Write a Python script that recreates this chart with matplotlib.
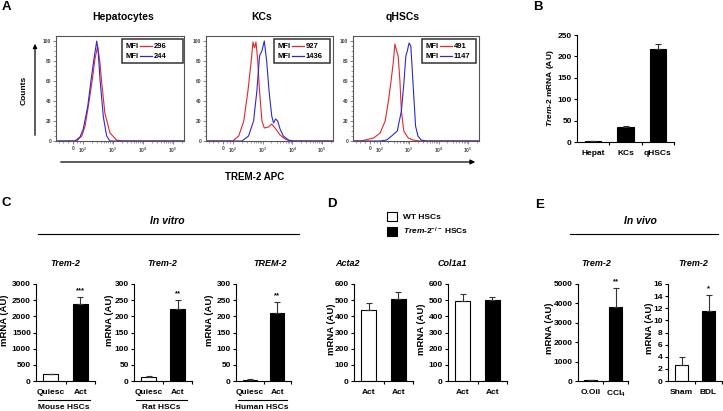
import numpy as np
import matplotlib.pyplot as plt
from matplotlib.lines import Line2D
from matplotlib.patches import Rectangle, FancyArrowPatch

plt.rcParams['font.family'] = ['Liberation Sans', 'DejaVu Sans']
plt.rcParams['font.weight'] = 'bold'
plt.rcParams['mathtext.fontset'] = 'custom'
plt.rcParams['mathtext.rm'] = 'Liberation Sans:bold'
plt.rcParams['mathtext.it'] = 'Liberation Sans:italic:bold'
plt.rcParams['mathtext.bf'] = 'Liberation Sans:bold'

# ---- data ----
# panel A: flow histograms, x in log10 units of TREM-2 APC, y = % of max
hep_red_x = [1.1, 1.79, 1.96, 2.07, 2.18, 2.31, 2.40, 2.49, 2.56, 2.62, 2.73, 2.90, 3.12, 3.29, 5.37]
hep_red_y = [0, 0, 5, 15, 35, 61, 82, 95, 80, 60, 28, 8, 1, 0, 0]
hep_blue_x = [1.1, 1.73, 1.90, 2.01, 2.16, 2.27, 2.38, 2.46, 2.51, 2.57, 2.68, 2.79, 2.90, 5.37]
hep_blue_y = [0, 0, 4, 12, 35, 61, 85, 100, 88, 61, 24, 5, 0, 0]

kc_red_x = [1.1, 2.0, 2.2, 2.37, 2.51, 2.62, 2.68, 2.73, 2.78, 2.84, 2.90, 2.98, 3.06, 3.20, 3.31, 3.42, 3.59, 3.76, 3.92, 5.37]
kc_red_y = [0, 0, 5, 20, 50, 80, 99, 93, 99, 80, 50, 20, 13, 14, 17, 13, 6, 2, 0, 0]
kc_blue_x = [1.1, 2.31, 2.53, 2.70, 2.81, 2.90, 2.98, 3.06, 3.14, 3.22, 3.31, 3.37, 3.44, 3.51, 3.59, 3.70, 3.87, 4.03, 5.37]
kc_blue_y = [0, 0, 5, 20, 50, 85, 90, 100, 80, 50, 25, 18, 22, 20, 12, 5, 1, 0, 0]

hsc_red_x = [1.1, 1.36, 1.80, 2.02, 2.19, 2.30, 2.39, 2.47, 2.52, 2.58, 2.63, 2.69, 2.74, 2.82, 2.97, 3.13, 3.36, 5.37]
hsc_red_y = [0, 0, 3, 8, 20, 40, 60, 80, 97, 90, 85, 60, 30, 10, 3, 1, 0, 0]
hsc_blue_x = [1.1, 2.02, 2.24, 2.41, 2.60, 2.74, 2.83, 2.89, 2.94, 3.00, 3.06, 3.11, 3.17, 3.22, 3.30, 3.41, 3.58, 5.37]
hsc_blue_y = [0, 0, 1, 5, 10, 30, 60, 85, 90, 98, 95, 70, 40, 15, 5, 1, 0, 0]

hist_titles = ['Hepatocytes', 'KCs', 'qHSCs']
mfi_red = [296, 927, 491]
mfi_blue = [244, 1436, 1147]

# panel B
b_cats = ['Hepat', 'KCs', 'qHSCs']
b_vals = [2, 34, 218]
b_err = [0.5, 4, 11]

# panel C
c_cats = ['Quiesc', 'Act']
c_mouse_vals = [210, 2380]
c_mouse_err = [0, 220]
c_rat_vals = [11, 222]
c_rat_err = [4, 30]
c_human_vals = [4, 211]
c_human_err = [3, 32]
c_stars = [['', '***'], ['', '**'], ['', '**']]

# panel D
d_cats = ['Act', 'Act']
d_acta2_vals = [438, 510]
d_acta2_err = [44, 40]
d_col1a1_vals = [492, 503]
d_col1a1_err = [45, 15]

# panel E
e_ccl4_cats = ['O.Oil', 'CCl$_4$']
e_ccl4_vals = [30, 3790]
e_ccl4_err = [0, 1000]
e_bdl_cats = ['Sham', 'BDL']
e_bdl_vals = [2.6, 11.5]
e_bdl_err = [1.3, 2.7]
e_stars = [['', '**'], ['', '*']]

RED = '#e3262b'
BLUE = '#2a2ad0'
W, H = 723, 411


def rect(l, t, r, b):
    return [l / W, 1 - b / H, (r - l) / W, (b - t) / H]


def fp(x, y):
    return (x / W, 1 - y / H)


fig = plt.figure(figsize=(W / 100, H / 100), dpi=100)


def ftext(x, y, s, **kw):
    kw.setdefault('ha', 'center')
    kw.setdefault('va', 'center')
    fig.text(*fp(x, y), s, **kw)


def hist_panel(box, rx, ry, bx, by, mr, mb, leg_l, leg_r):
    l, t, r, b = box
    ax = fig.add_axes(rect(l, t, r, b))
    ax.plot(rx, ry, color=RED, lw=0.8)
    ax.plot(bx, by, color=BLUE, lw=0.8)
    ax.set_xlim(1.1, 5.37)
    ax.set_ylim(0, 105)
    for s in ax.spines.values():
        s.set_color('#555555')
        s.set_linewidth(0.8)
    ax.set_yticks(np.arange(0, 101, 20))
    ax.set_yticks(np.arange(0, 101, 5), minor=True)
    ax.set_xticks([1.67, 2, 3, 4, 5])
    ax.set_xticklabels(['0', '$10^2$', '$10^3$', '$10^4$', '$10^5$'])
    minor = [1.2, 1.35, 1.5, 1.8, 1.9]
    for d in [2, 3, 4, 5]:
        minor += list(d + np.log10(np.arange(2, 10)))
    ax.set_xticks([m for m in minor if m < 5.37], minor=True)
    ax.tick_params(labelsize=3.5, labelcolor='#444444', color='#555555',
                   length=2, width=0.5, pad=1.5)
    ax.tick_params(which='minor', length=1.2, width=0.4, color='#555555')
    # MFI box
    w = r - l
    h = b - t
    x0 = (leg_l - l) / w
    x1 = (leg_r - l) / w
    y_top = 1 - (39 - t) / h
    y_bot = 1 - (63 - t) / h
    ax.add_patch(Rectangle((x0, y_bot), x1 - x0, y_top - y_bot, transform=ax.transAxes,
                           fill=False, edgecolor='#333333', lw=1.1, clip_on=False))
    for yy, col, val in [(46, RED, mr), (56, BLUE, mb)]:
        ya = 1 - (yy - t) / h
        ax.text(x0 + 3 / w, ya, 'MFI', transform=ax.transAxes, fontsize=5.5,
                ha='left', va='center')
        ax.plot([x0 + 18 / w, x0 + 30 / w], [ya, ya], color=col, lw=0.9,
                transform=ax.transAxes)
        ax.text(x0 + 32 / w, ya, str(val), transform=ax.transAxes, fontsize=5.5,
                ha='left', va='center')
    return ax


hist_boxes = [(56, 36, 184, 141), (206, 36, 333, 141), (353, 36, 479, 141)]
leg_lr = [(122, 183), (274, 330), (422, 476)]
curves = [(hep_red_x, hep_red_y, hep_blue_x, hep_blue_y),
          (kc_red_x, kc_red_y, kc_blue_x, kc_blue_y),
          (hsc_red_x, hsc_red_y, hsc_blue_x, hsc_blue_y)]
title_x = [123, 262, 403]
for i in range(3):
    hist_panel(hist_boxes[i], *curves[i], mfi_red[i], mfi_blue[i], *leg_lr[i])
    ftext(title_x[i], 17, hist_titles[i], fontsize=7.5)

ftext(24, 90, 'Counts', fontsize=6, rotation=90)
fig.add_artist(FancyArrowPatch(fp(35, 138), fp(35, 41), transform=fig.transFigure,
                               arrowstyle='-|>', mutation_scale=6, lw=0.9, color='black'))
fig.add_artist(FancyArrowPatch(fp(58, 162), fp(478, 162), transform=fig.transFigure,
                               arrowstyle='-|>', mutation_scale=7, lw=0.9, color='black'))
ftext(255, 177, 'TREM-2 APC', fontsize=7)


def bar_panel(box, cats, vals, errs, ymax, ystep, colors, stars=None, pad=5.5):
    ax = fig.add_axes(rect(*box))
    x = np.arange(len(vals))
    bars = ax.bar(x, vals, width=0.5, color=colors, edgecolor='black', linewidth=0.8, zorder=2)
    ax.errorbar(x, vals, yerr=[np.zeros(len(errs)), errs], fmt='none', ecolor='#333333',
                elinewidth=0.8, capsize=2, capthick=0.8, zorder=3)
    ax.set_xlim(-0.5, len(vals) - 0.5)
    ax.set_ylim(0, ymax)
    ax.set_yticks(np.arange(0, ymax + 1e-9, ystep))
    ax.set_xticks(x)
    ax.set_xticklabels(cats)
    ax.set_xticks(np.arange(len(vals)) + 0.5, minor=True)
    for s in ['top', 'right']:
        ax.spines[s].set_visible(False)
    for s in ['left', 'bottom']:
        ax.spines[s].set_linewidth(0.8)
    ax.tick_params(axis='x', which='major', length=0, pad=pad, labelsize=6)
    ax.tick_params(axis='x', which='minor', length=2.5, width=0.8, direction='out')
    ax.tick_params(axis='y', length=2.5, width=0.8, labelsize=6, pad=1.2)
    if stars:
        for xi, v, e, s in zip(x, vals, errs, stars):
            if s:
                ax.annotate(s, (xi, v + e), xytext=(0, 2), textcoords='offset points',
                            ha='center', va='bottom', fontsize=5.5)
    return ax, bars


# panel B
axb, _ = bar_panel((577, 35, 674, 142), b_cats, b_vals, b_err, 250, 50, 'black', pad=6)
ftext(550, 88, '$\\mathit{Trem}$-$\\mathit{2}$ mRNA (AU)', fontsize=6, rotation=90)

WB = ['white', 'black']
# panel C
c_boxes = [(36, 284, 95, 381), (134, 284, 192, 381), (236, 284, 291, 381)]
c_data = [(c_mouse_vals, c_mouse_err, 3000, 500), (c_rat_vals, c_rat_err, 300, 50),
          (c_human_vals, c_human_err, 300, 50)]
c_groups = ['Mouse HSCs', 'Rat HSCs', 'Human HSCs']
c_titles = [(65, 'Trem-2'), (162, 'Trem-2'), (270, 'TREM-2')]
c_ylab_x = [5, 110, 209]
for i in range(3):
    vals, errs, ymax, ystep = c_data[i]
    ax, _ = bar_panel(c_boxes[i], c_cats, vals, errs, ymax, ystep, WB, c_stars[i])
    ax.plot([0.03, 0.92], [-0.2, -0.2], color='black', lw=0.8, transform=ax.transAxes,
            clip_on=False)
    ax.text(0.47, -0.27, c_groups[i], transform=ax.transAxes, ha='center', va='center',
            fontsize=6)
    ftext(c_titles[i][0], 263, c_titles[i][1], fontsize=6.5, style='italic')
    ftext(c_ylab_x[i], 320, 'mRNA (AU)', fontsize=6.8, rotation=90)

ftext(167, 221, 'In vitro', fontsize=7.5, style='italic')
fig.add_artist(Line2D([38 / W, 299 / W], [1 - 234 / H] * 2, color='black', lw=0.8))

# panel D
ax_d1, d_bars = bar_panel((354, 284, 413, 381), d_cats, d_acta2_vals, d_acta2_err, 600, 100, WB)
bar_panel((448, 284, 507, 381), d_cats, d_col1a1_vals, d_col1a1_err, 600, 100, WB)
ftext(347, 263, 'Acta2', fontsize=6.5, style='italic')
ftext(452, 263, 'Col1a1', fontsize=6.5, style='italic')
ftext(331, 329, 'mRNA (AU)', fontsize=6.8, rotation=90)
ftext(422, 329, 'mRNA (AU)', fontsize=6.8, rotation=90)
fig.legend([d_bars[0], d_bars[1]], ['WT HSCs', '$\\mathit{Trem}$-$\\mathit{2}^{-/-}$ HSCs'],
           loc='upper left', bbox_to_anchor=fp(387, 212), frameon=False, fontsize=6,
           handlelength=1.2, handleheight=1.2, handletextpad=0.7, labelspacing=0.5,
           borderpad=0, borderaxespad=0)

# panel E
bar_panel((578, 284, 628, 381), e_ccl4_cats, e_ccl4_vals, e_ccl4_err, 5000, 1000, WB, e_stars[0])
bar_panel((668, 284, 722, 381), e_bdl_cats, e_bdl_vals, e_bdl_err, 16, 2, WB, e_stars[1])
ftext(596, 263, 'Trem-2', fontsize=6.5, style='italic')
ftext(693, 263, 'Trem-2', fontsize=6.5, style='italic')
ftext(550, 328, 'mRNA (AU)', fontsize=6.8, rotation=90)
ftext(649, 328, 'mRNA (AU)', fontsize=6.8, rotation=90)
ftext(640, 221, 'In vivo', fontsize=7.5, style='italic')
fig.add_artist(Line2D([570 / W, 718 / W], [1 - 234 / H] * 2, color='black', lw=0.8))

# panel letters
for s, x, y in [('A', 2, 1), ('B', 533, 1), ('C', 2, 197), ('D', 327, 198), ('E', 535, 199)]:
    fig.text(*fp(x, y), s, fontsize=9.5, ha='left', va='top')

fig.savefig('out.png', dpi=100)
